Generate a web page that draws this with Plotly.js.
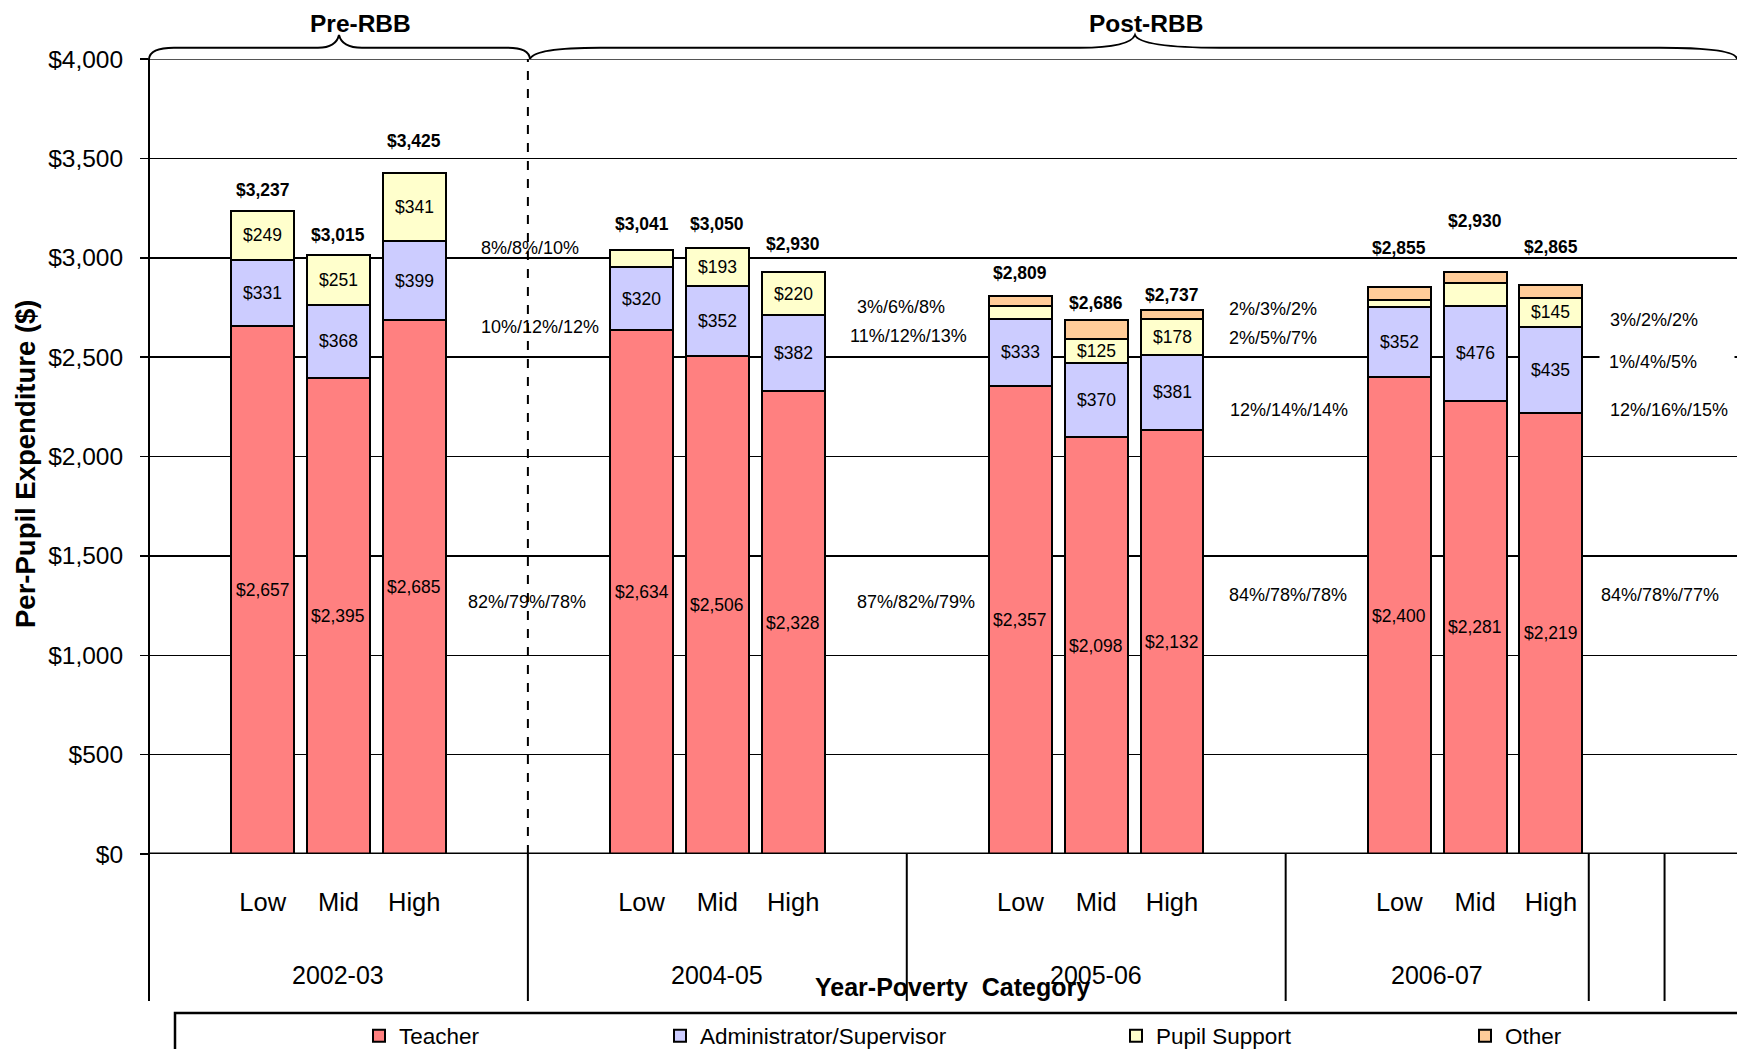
<!DOCTYPE html>
<html>
<head>
<meta charset="utf-8">
<script src="https://cdn.plot.ly/plotly-3.0.1.min.js"></script>
<style>
html,body{margin:0;padding:0;background:#fff;}
#chart{width:1737px;height:1049px;}
</style>
</head>
<body>
<div id="chart"></div>
<script>
// ---------------- DATA ----------------
const years = ['2002-03', '2004-05', '2005-06', '2006-07'];
const povertyLevels = ['Low', 'Mid', 'High'];
const seriesNames = ['Teacher', 'Administrator/Supervisor', 'Pupil Support', 'Other'];

// per-pupil expenditure, order: year x (Low, Mid, High)
const teacher = [2657, 2395, 2685, 2634, 2506, 2328, 2357, 2098, 2132, 2400, 2281, 2219];
const admin   = [331, 368, 399, 320, 352, 382, 333, 370, 381, 352, 476, 435];
const pupil   = [249, 251, 341, 87, 193, 220, 66, 125, 178, 33, 118, 145];
const other   = [0, 0, 0, 0, 0, 0, 53, 93, 46, 70, 55, 66];
const totals  = [3237, 3015, 3425, 3041, 3050, 2930, 2809, 2686, 2737, 2855, 2930, 2865];

// which segment values are labelled on the bars
const teacherLabelShown = [1,1,1, 1,1,1, 1,1,1, 1,1,1];
const adminLabelShown   = [1,1,1, 1,1,1, 1,1,1, 1,1,1];
const pupilLabelShown   = [1,1,1, 0,1,1, 0,1,1, 0,0,1];
const otherLabelShown   = [0,0,0, 0,0,0, 0,0,0, 0,0,0];

// share of spending (Low/Mid/High) per year
const pctTeacher = ['82%/79%/78%', '87%/82%/79%', '84%/78%/78%', '84%/78%/77%'];
const pctAdmin   = ['10%/12%/12%', '11%/12%/13%', '12%/14%/14%', '12%/16%/15%'];
const pctPupil   = ['8%/8%/10%', '3%/6%/8%', '2%/5%/7%', '1%/4%/5%'];
const pctOther   = ['', '', '2%/3%/2%', '3%/2%/2%'];

const periodLabels = ['Pre-RBB', 'Post-RBB'];
const yTickValues = [0, 500, 1000, 1500, 2000, 2500, 3000, 3500, 4000];

// ---------------- LAYOUT / STYLE CONFIG ----------------
const W = 1737, H = 1049;
const M = {l: 149, r: 0, t: 59, b: 195, autoexpand: false};
const plotW = W - M.l - M.r, plotH = H - M.t - M.b;
const FONT = 'Liberation Sans, Arial, Helvetica, sans-serif';
const colors = ['#FF8080', '#CCCCFF', '#FFFFCC', '#FFCC99'];
const groupSlots = [5, 5, 5, 4];      // category slots per year group (blank, Low, Mid, High, [blank])
const extraGroupSlots = [1];          // trailing empty axis groups
const xRange = [-0.5, 20.456];
const yRange = [0, 4000];
const slotPx = plotW / (xRange[1] - xRange[0]);

// label placement tweaks (pixels / slot units)
const totalLabelLift = [21, 20, 32, 26, 24, 28, 23, 17, 15, 39, 51, 38];
const pctRows = [
  {texts: pctPupil,   y: [3048, 2754, 2595, 2474], dx: [0.85, 0.82, 0.72, 0.75], mask: [0,0,0,1]},
  {texts: pctOther,   y: [0, 0, 2742, 2687],       dx: [0, 0, 0.72, 0.75],       mask: [0,0,0,0]},
  {texts: pctAdmin,   y: [2653, 2606, 2234, 2234], dx: [0.85, 0.73, 0.74, 0.75], mask: [0,0,0,0]},
  {texts: pctTeacher, y: [1270, 1270, 1303, 1303], dx: [0.68, 0.82, 0.73, 0.63], mask: [0,0,0,0]}
];
const legendTextStart = [401, 702, 1158, 1507];

// pixel -> paper helpers (for decorations outside the plot)
const px = v => (v - M.l) / plotW;
const py = v => (H - M.b - v) / plotH;
const P = (x, y) => px(x).toFixed(5) + ',' + py(y).toFixed(5);

// ---------------- GEOMETRY FROM CATEGORIES ----------------
const groupStart = [];
let acc = 0;
groupSlots.concat(extraGroupSlots).forEach(n => { groupStart.push(acc); acc += n; });
const barX = [];
years.forEach((yr, g) => povertyLevels.forEach((lv, j) => barX.push(groupStart[g] + 1 + j)));
const tickText = [];
years.forEach(() => povertyLevels.forEach(lv => tickText.push(lv)));

const money = v => '$' + v.toLocaleString('en-US');

// ---------------- TRACES ----------------
const seriesValues = [teacher, admin, pupil, other];
const seriesLabelShown = [teacherLabelShown, adminLabelShown, pupilLabelShown, otherLabelShown];
const legendIds = ['legend', 'legend2', 'legend3', 'legend4'];

const traces = seriesNames.map((name, s) => ({
  type: 'bar',
  name: name,
  x: barX,
  y: seriesValues[s],
  width: 0.83,
  legend: legendIds[s],
  marker: {color: colors[s], line: {color: '#000', width: 2}},
  hoverinfo: 'skip'
}));

// ---------------- ANNOTATIONS ----------------
const annotations = [];
const cum = barX.map(() => 0);
seriesValues.forEach((vals, s) => {
  vals.forEach((v, i) => {
    if (seriesLabelShown[s][i]) {
      annotations.push({
        x: barX[i], y: cum[i] + v / 2, xref: 'x', yref: 'y',
        text: money(v), showarrow: false, xanchor: 'center', yanchor: 'middle',
        font: {family: FONT, size: 17.5, color: '#000'}
      });
    }
    cum[i] += v;
  });
});
totals.forEach((t, i) => {
  annotations.push({
    x: barX[i], y: cum[i], xref: 'x', yref: 'y', yshift: totalLabelLift[i],
    text: '<b>' + money(t) + '</b>', showarrow: false, xanchor: 'center', yanchor: 'middle',
    font: {family: FONT, size: 17.5, color: '#000'}
  });
});
pctRows.forEach(row => {
  row.texts.forEach((txt, g) => {
    if (!txt) return;
    const highSlot = groupStart[g] + povertyLevels.length;
    const a = {
      x: highSlot + row.dx[g], y: row.y[g], xref: 'x', yref: 'y',
      text: txt, showarrow: false, xanchor: 'left', yanchor: 'middle', align: 'left',
      font: {family: FONT, size: 18, color: '#000'}
    };
    if (row.mask[g]) {
      a.bgcolor = '#fff'; a.borderpad = 9; a.width = 116;
      a.x -= 9 / slotPx;
    }
    annotations.push(a);
  });
});
years.forEach((yr, g) => {
  annotations.push({
    x: groupStart[g] + (groupSlots[g] - 1) / 2, y: py(975), xref: 'x', yref: 'paper',
    text: yr, showarrow: false, xanchor: 'center', yanchor: 'middle',
    font: {family: FONT, size: 25, color: '#000'}
  });
});
// axis titles
annotations.push({
  x: px(952), y: py(987), xref: 'paper', yref: 'paper',
  text: '<b>Year-Poverty\u00a0 Category</b>', showarrow: false, xanchor: 'center', yanchor: 'middle',
  font: {family: FONT, size: 25, color: '#000'}
});
annotations.push({
  x: px(25), y: py(464), xref: 'paper', yref: 'paper', textangle: -90,
  text: '<b>Per-Pupil Expenditure ($)</b>', showarrow: false, xanchor: 'center', yanchor: 'middle',
  font: {family: FONT, size: 27.5, color: '#000'}
});
// period labels
[[periodLabels[0], 360], [periodLabels[1], 1146]].forEach(([t, cx]) => {
  annotations.push({
    x: px(cx), y: py(23), xref: 'paper', yref: 'paper',
    text: '<b>' + t + '</b>', showarrow: false, xanchor: 'center', yanchor: 'middle',
    font: {family: FONT, size: 24.5, color: '#000'}
  });
});

// ---------------- SHAPES ----------------
const shapes = [];
// top gridline at the range maximum
shapes.push({type: 'line', xref: 'paper', yref: 'y', x0: 0, x1: 1, y0: yRange[1], y1: yRange[1], line: {color: '#555', width: 2}, layer: 'below'});
// y axis line extended below the axis through the category labels
shapes.push({type: 'line', xref: 'paper', yref: 'paper', x0: 0, x1: 0, y0: py(1001), y1: 1, line: {color: '#000', width: 2}});
// category group dividers below the axis
for (let g = 1; g < groupStart.length + 1; g++) {
  const edge = (g < groupStart.length ? groupStart[g] : acc) - 0.5;
  if (edge > xRange[1]) continue;
  shapes.push({type: 'line', xref: 'x', yref: 'paper', x0: edge, x1: edge, y0: py(1001), y1: 0, line: {color: '#000', width: 2}});
}
// Pre/Post RBB dashed separator
const sep = groupStart[1] - 0.5;
shapes.push({type: 'line', xref: 'x', yref: 'y', x0: sep, x1: sep, y0: yRange[0], y1: yRange[1], line: {color: '#000', width: 2, dash: 'dash'}});
// zero axis line
shapes.push({type: 'line', xref: 'paper', yref: 'y', x0: 0, x1: 1, y0: 0, y1: 0, line: {color: '#000', width: 3}});
// braces
const bracePre = 'M' + P(149, 59) + ' Q' + P(150, 47.7) + ' ' + P(174, 47.7) + ' L' + P(318, 47.7) +
  ' Q' + P(336, 47.7) + ' ' + P(339, 35) + ' Q' + P(342, 47.7) + ' ' + P(362, 47.7) +
  ' L' + P(508, 47.7) + ' Q' + P(529, 47.7) + ' ' + P(530, 59);
const bracePost = 'M' + P(530, 59) + ' Q' + P(534, 47.7) + ' ' + P(600, 47.7) + ' L' + P(1080, 47.7) +
  ' Q' + P(1130, 47.7) + ' ' + P(1135, 35) + ' Q' + P(1140, 47.7) + ' ' + P(1220, 47.7) +
  ' L' + P(1660, 47.7) + ' Q' + P(1736, 47.7) + ' ' + P(1737, 59);
[bracePre, bracePost].forEach(p => shapes.push({type: 'path', xref: 'paper', yref: 'paper', path: p, line: {color: '#000', width: 2}}));
// legend frame
shapes.push({type: 'rect', xref: 'paper', yref: 'paper', x0: px(175), x1: px(1760), y0: py(1080), y1: py(1013), line: {color: '#000', width: 2.5}, fillcolor: 'rgba(0,0,0,0)'});

// ---------------- LAYOUT ----------------
const layout = {
  width: W, height: H,
  margin: M,
  paper_bgcolor: '#fff', plot_bgcolor: '#fff',
  barmode: 'stack',
  font: {family: FONT, color: '#000'},
  xaxis: {
    range: xRange, tickmode: 'array', tickvals: barX, ticktext: tickText,
    ticks: '', showgrid: false, zeroline: false, showline: false, automargin: false,
    tickfont: {family: FONT, size: 25.5, color: '#000'},
    ticklabelstandoff: 30, fixedrange: true
  },
  yaxis: {
    range: yRange, tickmode: 'array', tickvals: yTickValues, ticktext: yTickValues.map(money),
    showgrid: true, gridcolor: '#000', gridwidth: 1.5,
    zeroline: false, showline: false, automargin: false,
    ticks: 'outside', ticklen: 8, tickwidth: 1.5, tickcolor: '#000',
    tickfont: {family: FONT, size: 24.5, color: '#000'},
    ticklabelstandoff: 12, fixedrange: true
  },
  annotations: annotations,
  shapes: shapes,
  showlegend: true
};
legendIds.forEach((id, s) => {
  layout[id] = {
    orientation: 'h', x: px(legendTextStart[s] - 42), xanchor: 'left',
    y: py(1036), yanchor: 'middle', bgcolor: 'rgba(0,0,0,0)', borderwidth: 0,
    font: {family: FONT, size: 22.5, color: '#000'}
  };
});

Plotly.newPlot('chart', traces, layout, {displayModeBar: false, staticPlot: true});
</script>
</body>
</html>
